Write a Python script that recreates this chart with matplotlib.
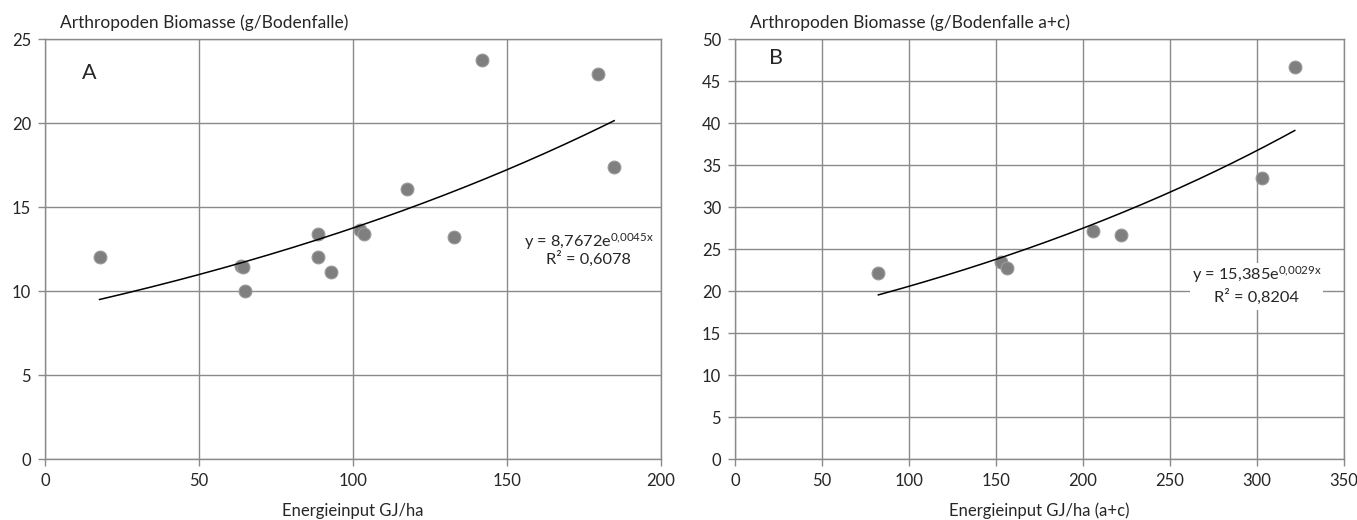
import numpy as np
import matplotlib
matplotlib.use("Agg")
import matplotlib.pyplot as plt
from matplotlib.patches import Rectangle

plt.rcParams['font.family'] = ['Lato', 'DejaVu Sans']
plt.rcParams['mathtext.fontset'] = 'custom'
plt.rcParams['mathtext.rm'] = 'Lato'
plt.rcParams['mathtext.it'] = 'Lato:italic'

# Panel A data
a_x = [17.7, 63.6, 64.4, 64.8, 88.6, 88.7, 93.0, 102.3, 103.5, 117.5, 132.7, 142.0, 179.7, 184.8]
a_y = [12.05, 11.5, 11.42, 10.02, 12.0, 13.4, 11.15, 13.63, 13.4, 16.05, 13.23, 23.75, 22.92, 17.4]
a_coef, a_rate = 8.7672, 0.0045
a_eq = r"y = 8,7672e$^{\mathrm{0{,}0045x}}$"
a_r2 = "R² = 0,6078"

# Panel B data
b_x = [82.4, 152.9, 156.4, 205.8, 221.9, 302.6, 321.7]
b_y = [22.1, 23.4, 22.7, 27.1, 26.7, 33.5, 46.7]
b_coef, b_rate = 15.385, 0.0029
b_eq = r"y = 15,385e$^{\mathrm{0{,}0029x}}$"
b_r2 = "R² = 0,8204"

a_xticks = [0, 50, 100, 150, 200]
a_yticks = [0, 5, 10, 15, 20, 25]
b_xticks = [0, 50, 100, 150, 200, 250, 300, 350]
b_yticks = [0, 5, 10, 15, 20, 25, 30, 35, 40, 45, 50]

W, H = 1357, 520
fig = plt.figure(figsize=(W/100, H/100), dpi=100)

grid_c = '#8a8a8a'
pt_c = '#7f7f7f'
txt_c = '#262626'

def setup(ax, xticks, yticks, ylabel, xlabel, letter, letter_pos):
    ax.set_xlim(xticks[0], xticks[-1])
    ax.set_ylim(yticks[0], yticks[-1])
    ax.set_xticks(xticks)
    ax.set_yticks(yticks)
    ax.grid(True, color=grid_c, linewidth=1.0)
    ax.set_axisbelow(True)
    for s in ax.spines.values():
        s.set_color(grid_c)
        s.set_linewidth(1.0)
    ax.tick_params(axis='both', colors=grid_c, labelcolor=txt_c, labelsize=12,
                   length=5, width=1.0, pad=5)
    ax.set_xlabel(xlabel, fontsize=12, color=txt_c, labelpad=10)
    ax.text(0.024, 1.038, ylabel, transform=ax.transAxes, fontsize=12.5,
            color=txt_c, ha='left', va='center')
    ax.text(letter_pos[0], letter_pos[1], letter, transform=ax.transAxes,
            fontsize=15.5, color=txt_c, ha='left', va='center')

axA = fig.add_axes([45/W, 1-459/H, 616/W, 420/H])
setup(axA, a_xticks, a_yticks, "Arthropoden Biomasse (g/Bodenfalle)",
      "Energieinput GJ/ha", "A", (0.06, 0.919))
axA.scatter(a_x, a_y, s=85, color=pt_c, edgecolor='#9a9a9a', linewidth=0.8, zorder=3)
xa = np.linspace(min(a_x), max(a_x), 200)
axA.plot(xa, a_coef*np.exp(a_rate*xa), color='black', linewidth=1.1, zorder=4)
axA.text(0.883, 0.517, a_eq, transform=axA.transAxes, ha='center', va='center',
         fontsize=11.8, color=txt_c)
axA.text(0.883, 0.476, a_r2, transform=axA.transAxes, ha='center', va='center',
         fontsize=11.8, color=txt_c)

axB = fig.add_axes([735/W, 1-459/H, 609/W, 420/H])
setup(axB, b_xticks, b_yticks, "Arthropoden Biomasse (g/Bodenfalle a+c)",
      "Energieinput GJ/ha (a+c)", "B", (0.056, 0.955))
axB.scatter(b_x, b_y, s=85, color=pt_c, edgecolor='#9a9a9a', linewidth=0.8, zorder=3)
xb = np.linspace(min(b_x), max(b_x), 200)
axB.plot(xb, b_coef*np.exp(b_rate*xb), color='black', linewidth=1.1, zorder=4)
axB.add_patch(Rectangle((0.747, 0.355), 0.218, 0.112, transform=axB.transAxes,
                        facecolor='white', edgecolor='none', zorder=5))
axB.text(0.857, 0.438, b_eq, transform=axB.transAxes, ha='center', va='center',
         fontsize=11.8, color=txt_c, zorder=6)
axB.text(0.857, 0.386, b_r2, transform=axB.transAxes, ha='center', va='center',
         fontsize=11.8, color=txt_c, zorder=6)

fig.savefig("out.png", dpi=100)
